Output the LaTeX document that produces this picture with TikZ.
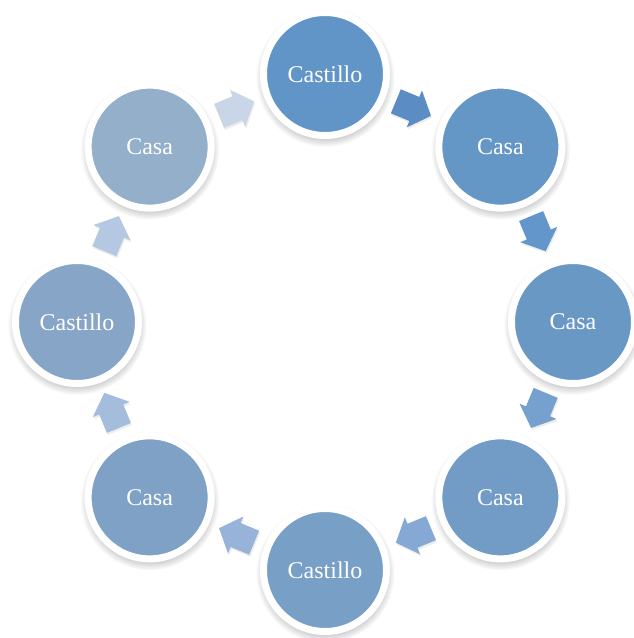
\documentclass[tikz,border=0pt]{standalone}
\usepackage{fontspec}
\setmainfont{Liberation Serif}
\usetikzlibrary{shadows}

\definecolor{c1}{RGB}{97,149,199}
\definecolor{c2}{RGB}{101,151,198}
\definecolor{c3}{RGB}{106,152,197}
\definecolor{c4}{RGB}{114,156,198}
\definecolor{c5}{RGB}{120,159,198}
\definecolor{c6}{RGB}{126,161,197}
\definecolor{c7}{RGB}{135,165,198}
\definecolor{c8}{RGB}{148,175,202}
\definecolor{a1}{RGB}{91,140,196}
\definecolor{a2}{RGB}{99,151,203}
\definecolor{a3}{RGB}{118,160,206}
\definecolor{a4}{RGB}{134,168,212}
\definecolor{a5}{RGB}{151,179,217}
\definecolor{a6}{RGB}{165,189,220}
\definecolor{a7}{RGB}{181,200,225}
\definecolor{a8}{RGB}{202,214,232}

\begin{document}
\begin{tikzpicture}[x=1pt,y=1pt,
	ball/.style={circle,minimum size=123pt,inner sep=0pt,draw=white,line width=7pt,text=white,
		font=\fontsize{24}{28}\selectfont,
		circular drop shadow={shadow xshift=0pt,shadow yshift=-3pt,shadow scale=1.13,opacity=.45}},
	flecha/.pic={\fill[pic actions,drop shadow={opacity=.15,shadow xshift=1pt,shadow yshift=-2pt}]
		(-19,-13) -- (1,-13) -- (1,-20) -- (19,0) -- (1,20) -- (1,13) -- (-19,13) -- cycle;}]
	\useasboundingbox (-325,-316) rectangle (308,322);
	% the ring
	\node [ball,fill=c1] (castillo1) at (90:248) {Castillo};
	\node [ball,fill=c2] (casa1) at (45:248) {Casa};
	\node [ball,fill=c3] (casa2) at (0:248) {Casa};
	\node [ball,fill=c4] (casa3) at (-45:248) {Casa};
	\node [ball,fill=c5] (castillo2) at (-90:248) {Castillo};
	\node [ball,fill=c6] (casa4) at (-135:248) {Casa};
	\node [ball,fill=c7] (castillo3) at (180:248) {Castillo};
	\node [ball,fill=c8] (casa5) at (135:248) {Casa};
	% arrows between
	\pic [fill=a1,rotate=-22.5] at (67.5:231) {flecha};
	\pic [fill=a2,rotate=-67.5] at (22.5:231) {flecha};
	\pic [fill=a3,rotate=-112.5] at (-22.5:231) {flecha};
	\pic [fill=a4,rotate=-157.5] at (-67.5:231) {flecha};
	\pic [fill=a5,rotate=-202.5] at (-112.5:231) {flecha};
	\pic [fill=a6,rotate=-247.5] at (-157.5:231) {flecha};
	\pic [fill=a7,rotate=-292.5] at (157.5:231) {flecha};
	\pic [fill=a8,rotate=-337.5] at (112.5:231) {flecha};
\end{tikzpicture}
\end{document}
